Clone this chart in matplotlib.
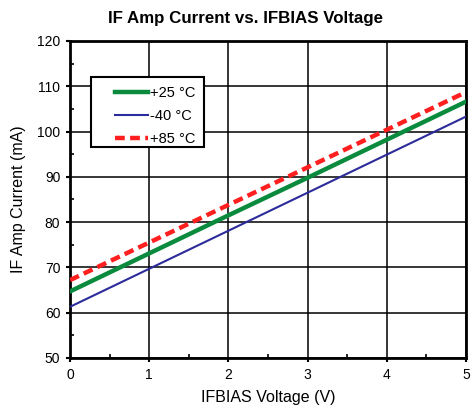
import matplotlib
matplotlib.use("Agg")
import matplotlib.pyplot as plt
from matplotlib.patches import Rectangle
from matplotlib.ticker import MultipleLocator

plt.rcParams['font.family'] = ['Liberation Sans', 'DejaVu Sans']

# data
voltage = [0, 1, 2, 3, 4, 5]
cur_25 = [64.7, 73.1, 81.5, 89.8, 98.2, 106.6]
cur_m40 = [61.3, 69.7, 78.1, 86.5, 94.9, 103.3]
cur_85 = [67.2, 75.5, 83.8, 92.1, 100.4, 108.7]

fig = plt.figure(figsize=(4.77, 4.09), dpi=100)
ax = fig.add_axes([0.1468, 0.1247, 0.830, 0.7751])

ax.plot(voltage, cur_25, color='#0a8a3c', lw=3.2, label='+25 \u00b0C', zorder=3)
ax.plot(voltage, cur_m40, color='#2b2b9b', lw=1.5, label='-40 \u00b0C', zorder=3)
ax.plot(voltage, cur_85, color='#ff1f1f', lw=3.2, ls=(0, (2.2, 1.2)), label='+85 \u00b0C', zorder=3)

ax.set_xlim(0, 5)
ax.set_ylim(50, 120)
ax.xaxis.set_major_locator(MultipleLocator(1))
ax.yaxis.set_major_locator(MultipleLocator(10))
ax.xaxis.set_minor_locator(MultipleLocator(0.5))
ax.yaxis.set_minor_locator(MultipleLocator(5))
ax.tick_params(which='major', direction='out', length=3, width=1.5, labelsize=10, pad=4)
ax.tick_params(which='minor', direction='in', length=3, width=1.2)
ax.grid(True, which='major', color='black', lw=1.1)
for s in ax.spines.values():
    s.set_linewidth(2)

ax.set_xlabel('IFBIAS Voltage (V)', fontsize=11.5, labelpad=6)
ax.set_ylabel('IF Amp Current (mA)', fontsize=11.5, labelpad=8)
ax.set_title('IF Amp Current vs. IFBIAS Voltage', fontsize=12.2, fontweight='bold', pad=13, x=0.442)

# legend box drawn separately so the padding matches the original
ax.add_patch(Rectangle((0.053, 0.666), 0.285, 0.22, transform=ax.transAxes,
                       facecolor='white', edgecolor='black', lw=1.5, zorder=4))
leg = ax.legend(loc='upper left', bbox_to_anchor=(0.113, 0.859), frameon=False,
                fontsize=10.5, handlelength=2.3, handletextpad=0.15, labelspacing=0.62,
                borderpad=0, borderaxespad=0)
leg.set_zorder(5)

fig.savefig('out.png', dpi=100)
